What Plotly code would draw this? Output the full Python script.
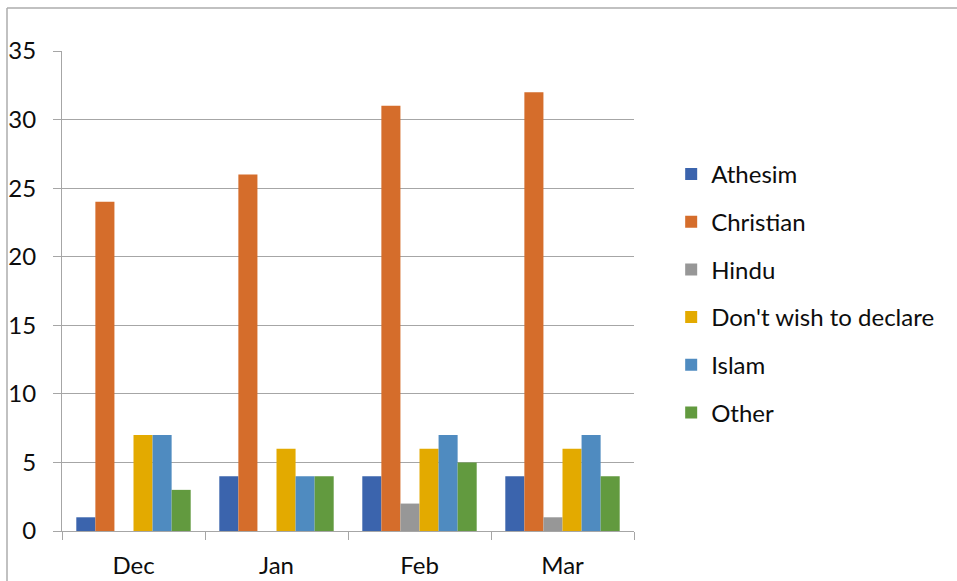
import plotly.graph_objects as go

months = ["Dec", "Jan", "Feb", "Mar"]
athesim = [1, 4, 4, 4]
christian = [24, 26, 31, 32]
hindu = [0, 0, 2, 1]
dont_declare = [7, 6, 6, 6]
islam = [7, 4, 7, 7]
other = [3, 4, 5, 4]

series = [
    ("Athesim", athesim, "#3B64AD"),
    ("Christian", christian, "#D56D2B"),
    ("Hindu", hindu, "#979797"),
    ("Don't wish to declare", dont_declare, "#E3AA00"),
    ("Islam", islam, "#4F8BC0"),
    ("Other", other, "#629A3F"),
]

FONT = "Lato"
GRID = "#A6A6A6"
TEXT = "#0d0d0d"

fig = go.Figure()
for name, vals, color in series:
    fig.add_trace(go.Bar(
        x=months, y=vals, name=name, legendgroup=name,
        marker=dict(color=color, line=dict(width=0)),
    ))

fig.update_layout(
    width=957, height=581,
    margin=dict(l=62, r=323, t=51, b=50),
    paper_bgcolor="white", plot_bgcolor="white",
    barmode="group", bargap=0.2, bargroupgap=0,
    font=dict(family=FONT, size=24, color=TEXT),
    showlegend=True,
    legend=dict(
        x=1.065, xanchor="left", y=0.495, yanchor="middle",
        tracegroupgap=13.5, font=dict(family=FONT, size=24, color=TEXT),
        bgcolor="rgba(0,0,0,0)",
    ),
    xaxis=dict(
        automargin=False,
        showgrid=False, showline=True, linecolor=GRID, linewidth=1,
        ticks="outside", tickson="boundaries", ticklen=8, tickcolor=GRID,
        ticklabelstandoff=13,
    ),
    yaxis=dict(
        automargin=False,
        range=[0, 35], dtick=5, showgrid=True, gridcolor=GRID, gridwidth=1,
        showline=True, linecolor=GRID, linewidth=1, zeroline=False,
        ticks="outside", ticklen=8, tickcolor=GRID, ticklabelstandoff=12,
    ),
    shapes=[
        dict(type="line", xref="paper", yref="paper",
             x0=(7 - 62) / 572, x1=(957 - 62) / 572,
             y0=(531 - 8) / 480, y1=(531 - 8) / 480,
             line=dict(color="#ADADAD", width=1.5)),
        dict(type="line", xref="paper", yref="paper",
             x0=(7 - 62) / 572, x1=(7 - 62) / 572,
             y0=(531 - 8) / 480, y1=(531 - 581) / 480,
             line=dict(color="#ADADAD", width=1.5)),
    ],
)

fig.write_html("out.html")
